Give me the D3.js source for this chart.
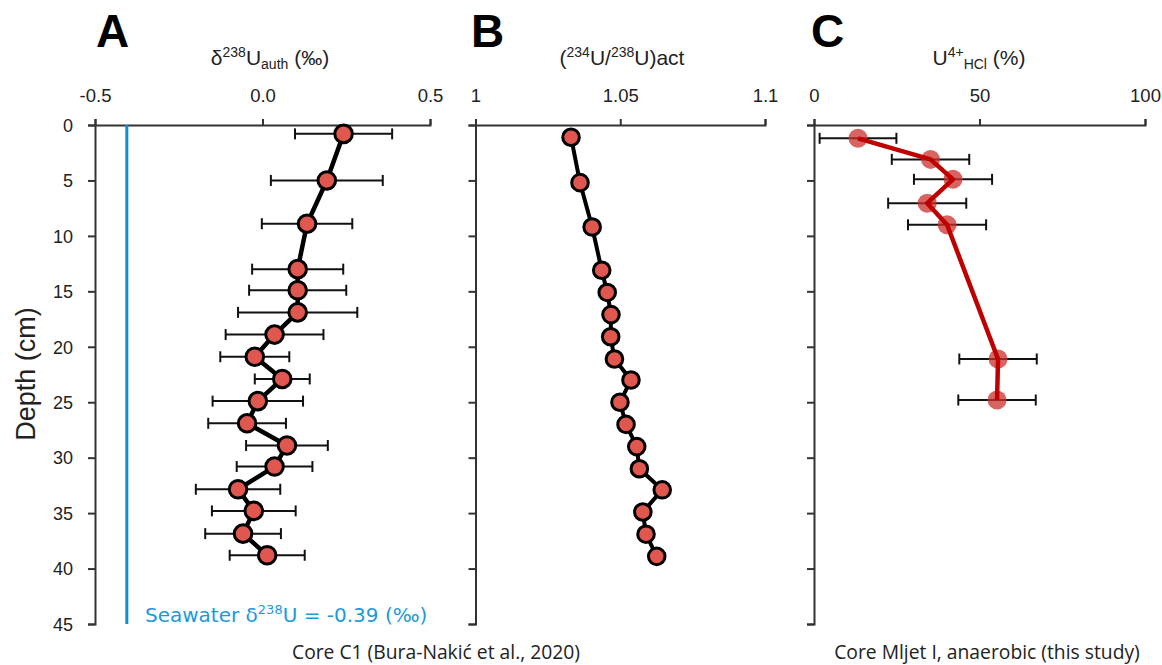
<!DOCTYPE html>
<html><head><meta charset="utf-8">
<script src="https://cdn.jsdelivr.net/npm/d3@7"></script>
<style>body{margin:0;background:#fff} svg{display:block}</style>
</head><body><svg id="c" width="1162" height="665"></svg>
<script>
// ---------- data ----------
const depthTicks = [0,5,10,15,20,25,30,35,40,45];

// Panel A: Core C1 δ238U_auth (‰)
const depthA = [0.8,5,8.9,13,14.9,16.9,18.9,20.9,22.9,24.9,26.9,28.9,30.8,32.85,34.8,36.85,38.8];
const d238U = [0.242,0.192,0.133,0.105,0.105,0.105,0.036,-0.023,0.059,-0.014,-0.046,0.073,0.036,-0.073,-0.026,-0.058,0.014];
const d238Uerr = [0.145,0.167,0.135,0.136,0.145,0.178,0.146,0.103,0.082,0.135,0.116,0.122,0.113,0.126,0.125,0.113,0.112];
const xTicksA = [-0.5,0,0.5];
const xTickLabelsA = ["-0.5","0.0","0.5"];
const seawaterLinePos = -0.405; // as drawn in the figure
const seawaterLabel = "-0.39";

// Panel B: (234U/238U) activity ratio
const depthB = [1.1,5.2,9.2,13.1,15.1,17.1,19.1,21.1,23,25,27,29,31,32.9,34.9,36.9,38.9];
const actRatio = [1.033,1.0361,1.0403,1.0436,1.0455,1.0468,1.0467,1.0480,1.0537,1.0499,1.0520,1.0557,1.0566,1.0645,1.0578,1.0589,1.0626];
const xTicksB = [1,1.05,1.1];
const xTickLabelsB = ["1","1.05","1.1"];

// Panel C: U4+ HCl (%)
const depthC = [1.2,3.1,4.9,7.05,9,21.1,24.8];
const u4 = [13.3,35.2,42.0,34.2,40.2,55.6,55.3];
const u4err = [11.6,11.7,11.8,11.8,11.8,11.7,11.7];
const xTicksC = [0,50,100];
const xTickLabelsC = ["0","50","100"];

// ---------- drawing ----------
const svg = d3.select("#c");
const y = d3.scaleLinear().domain([0,45]).range([125,624]);
const xA = d3.scaleLinear().domain([-0.5,0.5]).range([95,430]);
const xB = d3.scaleLinear().domain([1,1.1]).range([475.5,765]);
const xC = d3.scaleLinear().domain([0,100]).range([814,1145]);

const AX = "#333";
function drawAxes(x, ticks, labels, showY) {
  const gx = svg.append("g").attr("transform", `translate(0,${y(0)})`)
    .call(d3.axisTop(x).tickValues(ticks).tickFormat((d,i)=>labels[i]).tickSizeInner(6).tickSizeOuter(6).tickPadding(17));
  const gy = svg.append("g").attr("transform", `translate(${x.range()[0]},0)`)
    .call(d3.axisLeft(y).tickValues(depthTicks).tickSizeInner(7).tickSizeOuter(7).tickPadding(15)
      .tickFormat(showY ? d3.format("d") : ""));
  [gx,gy].forEach(g=>{
    g.select(".domain").attr("stroke",AX).attr("stroke-width",2);
    g.selectAll(".tick line").attr("stroke",AX).attr("stroke-width",2);
    g.selectAll(".tick text").attr("fill","#222").attr("font-family","Liberation Sans, Arial, sans-serif");
  });
  gx.selectAll(".tick text").attr("font-size",18.5);
  gy.selectAll(".tick text").attr("font-size",18).attr("dy","0.35em");
}
drawAxes(xA, xTicksA, xTickLabelsA, true);
drawAxes(xB, xTicksB, xTickLabelsB, false);
drawAxes(xC, xTicksC, xTickLabelsC, false);

// seawater line
svg.append("line").attr("x1",xA(seawaterLinePos)).attr("x2",xA(seawaterLinePos))
  .attr("y1",y(0)).attr("y2",y(45)).attr("stroke","#0a8fd8").attr("stroke-width",3);

function errBars(x, vals, errs, depths) {
  const g = svg.append("g").attr("stroke","#111").attr("stroke-width",2);
  vals.forEach((v,i)=>{
    const yy = y(depths[i]);
    g.append("line").attr("x1",x(v-errs[i])).attr("x2",x(v+errs[i])).attr("y1",yy).attr("y2",yy);
    g.append("line").attr("x1",x(v-errs[i])).attr("x2",x(v-errs[i])).attr("y1",yy-5.5).attr("y2",yy+5.5);
    g.append("line").attr("x1",x(v+errs[i])).attr("x2",x(v+errs[i])).attr("y1",yy-5.5).attr("y2",yy+5.5);
  });
}
function lineSeries(x, vals, depths, color, w) {
  const pts = vals.map((v,i)=>[x(v), y(depths[i])]);
  svg.append("path").attr("d", d3.line()(pts)).attr("fill","none")
    .attr("stroke",color).attr("stroke-width",w).attr("stroke-linejoin","round");
  return pts;
}
// Panel A
errBars(xA, d238U, d238Uerr, depthA);
let ptsA = lineSeries(xA, d238U, depthA, "#000", 4.5);
svg.append("g").selectAll("circle").data(ptsA).join("circle")
  .attr("cx",d=>d[0]).attr("cy",d=>d[1]).attr("r",8.8)
  .attr("fill","#e0574f").attr("stroke","#000").attr("stroke-width",3);
// Panel B
let ptsB = lineSeries(xB, actRatio, depthB, "#000", 4);
svg.append("g").selectAll("circle").data(ptsB).join("circle")
  .attr("cx",d=>d[0]).attr("cy",d=>d[1]).attr("r",8.3)
  .attr("fill","#e0574f").attr("stroke","#000").attr("stroke-width",3);
// Panel C
errBars(xC, u4, u4err, depthC);
const ptsC = u4.map((v,i)=>[xC(v), y(depthC[i])]);
svg.append("g").selectAll("circle").data(ptsC).join("circle")
  .attr("cx",d=>d[0]).attr("cy",d=>d[1]).attr("r",9.5)
  .attr("fill","#c9302c").attr("fill-opacity",0.75);
lineSeries(xC, u4, depthC, "#c00000", 4.5);

// ---------- text ----------
const SANS = "Liberation Sans, Arial, sans-serif";
[["A",96],["B",471],["C",811]].forEach(([t,x])=>{
  svg.append("text").attr("x",x).attr("y",47).text(t)
    .attr("font-family",SANS).attr("font-weight","bold").attr("font-size",46).attr("fill","#000");
});
function title(cx, parts) {
  const t = svg.append("text").attr("x",cx).attr("y",65).attr("text-anchor","middle")
    .attr("font-family",SANS).attr("font-size",21).attr("fill","#222");
  parts.forEach(p=>{ t.append("tspan").text(p[0]).attr("font-size",p[1]).attr("dy",p[2]); });
}
title(270, [["δ",21,0],["238",14,-8],["U",21,8],["auth",14,4],[" (‰)",21,-4]]);
title(622, [["(",21,0],["234",14,-8],["U/",21,8],["238",14,-8],["U)act",21,8]]);
title(979, [["U",21,0],["4+",14,-8],["HCl",14,12],[" (%)",21,-4]]);

svg.append("text").attr("transform","translate(35,374) rotate(-90)").attr("text-anchor","middle")
  .attr("font-family",SANS).attr("font-size",27).attr("fill","#222").text("Depth (cm)");

const sw = svg.append("text").attr("x",145).attr("y",622).attr("font-family","DejaVu Sans, Verdana, sans-serif")
  .attr("font-size",20).attr("fill","#1a9ad8");
sw.append("tspan").text("Seawater δ");
sw.append("tspan").text("238").attr("font-size",13).attr("dy",-8);
sw.append("tspan").text(`U = ${seawaterLabel} (‰)`).attr("dy",8);

const NARROW = "Liberation Sans Narrow, Open Sans, sans-serif";
svg.append("text").attr("x",436).attr("y",659).attr("text-anchor","middle").attr("font-family",NARROW)
  .attr("font-size",19.3).attr("fill","#222").text("Core C1 (Bura-Nakić et al., 2020)");
svg.append("text").attr("x",987).attr("y",659).attr("text-anchor","middle").attr("font-family",NARROW)
  .attr("font-size",19.3).attr("fill","#222").text("Core Mljet I, anaerobic (this study)");
</script></body></html>
